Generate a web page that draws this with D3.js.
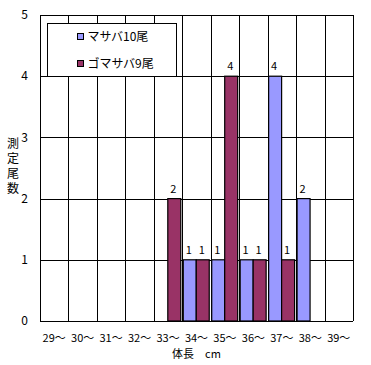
<!DOCTYPE html>
<html>
<head>
<meta charset="utf-8">
<script src="https://cdn.jsdelivr.net/npm/d3@7"></script>
<style>
  body { margin: 0; background: #fff; }
  text { font-family: "Noto Sans CJK JP", "DejaVu Sans", sans-serif; fill: #000; }
</style>
</head>
<body>
<svg class="chart"></svg>
<script>
const categories = ['29～', '30～', '31～', '32～', '33～', '34～', '35～', '36～', '37～', '38～', '39～'];
const seriesNames = ['マサバ10尾', 'ゴマサバ9尾'];
const masaba = [0, 0, 0, 0, 0, 1, 1, 1, 4, 2, 0];
const gomasaba = [0, 0, 0, 0, 2, 1, 4, 1, 1, 0, 0];
const yTicks = [0, 1, 2, 3, 4, 5];
const seriesColors = ['#9999ff', '#993366'];

const W = 371, H = 365;
const margin = {top: 15, right: 18, bottom: 44, left: 40};
const width = W - margin.left - margin.right;
const height = H - margin.top - margin.bottom;

const svg = d3.select('.chart')
    .attr('width', W)
    .attr('height', H);

const chart = svg.append('g')
    .attr('transform', `translate(${ margin.left },${ margin.top })`);

const x = d3.scaleBand()
    .domain(categories)
    .range([0, width])
    .padding(0);

const x1 = d3.scaleBand()
    .domain(seriesNames)
    .range([1, x.bandwidth() - 1.5])
    .padding(0);

const y = d3.scaleLinear()
    .domain([0, 5])
    .range([height, 0]);

// horizontal grid lines
chart.append('g')
  .selectAll('line')
    .data(yTicks)
  .enter().append('line')
    .attr('x1', 0)
    .attr('x2', width)
    .attr('y1', (d) => Math.round(y(d)) + 0.5)
    .attr('y2', (d) => Math.round(y(d)) + 0.5)
    .attr('stroke', '#000');

// vertical category lines
chart.append('g')
  .selectAll('line')
    .data(categories.concat(['end']))
  .enter().append('line')
    .attr('x1', (d, i) => Math.round(i * x.bandwidth()) + 0.5)
    .attr('x2', (d, i) => Math.round(i * x.bandwidth()) + 0.5)
    .attr('y1', 0)
    .attr('y2', height)
    .attr('stroke', '#000');

// y tick labels
chart.append('g')
  .selectAll('text')
    .data(yTicks)
  .enter().append('text')
    .attr('x', -12)
    .attr('y', (d) => y(d))
    .attr('dy', '0.35em')
    .attr('text-anchor', 'end')
    .style('font-size', '12px')
    .text((d) => d);

// x labels
chart.append('g')
  .selectAll('text')
    .data(categories)
  .enter().append('text')
    .attr('x', (d) => x(d) + x.bandwidth() / 2)
    .attr('y', height + 21)
    .attr('text-anchor', 'middle')
    .style('font-size', '11px')
    .text((d) => d);

// bars
const rows = categories.map((c, i) => ({cat: c, values: [masaba[i], gomasaba[i]]}));

const group = chart.selectAll('.grp')
    .data(rows)
  .enter().append('g')
    .attr('class', 'grp')
    .attr('transform', (d) => `translate(${ x(d.cat) },0)`);

group.selectAll('rect')
    .data((d) => d.values.map((v, j) => ({name: seriesNames[j], value: v, j: j})).filter((e) => e.value > 0))
  .enter().append('rect')
    .attr('x', (d) => x1(d.name))
    .attr('y', (d) => y(d.value))
    .attr('width', x1.bandwidth())
    .attr('height', (d) => y(0) - y(d.value))
    .attr('fill', (d) => seriesColors[d.j])
    .attr('stroke', '#000')
    .attr('stroke-width', 1.2);

// value labels
group.selectAll('.val')
    .data((d) => d.values.map((v, j) => ({name: seriesNames[j], value: v})).filter((e) => e.value > 0))
  .enter().append('text')
    .attr('class', 'val')
    .attr('x', (d) => x1(d.name) + x1.bandwidth() / 2 - 1)
    .attr('y', (d) => y(d.value) - 6)
    .attr('text-anchor', 'middle')
    .style('font-size', '11px')
    .text((d) => d.value);

// legend
const legend = chart.append('g')
    .attr('transform', 'translate(7.5,8.5)');

legend.append('rect')
    .attr('width', 129)
    .attr('height', 53)
    .attr('fill', '#fff')
    .attr('stroke', '#000');

seriesNames.forEach((name, i) => {
  const row = legend.append('g')
      .attr('transform', `translate(30,${ 10 + i * 27 })`);
  row.append('rect')
      .attr('width', 6)
      .attr('height', 6)
      .attr('fill', seriesColors[i])
      .attr('stroke', '#000');
  row.append('text')
      .attr('x', 10)
      .attr('y', 3)
      .attr('dy', '0.35em')
      .style('font-size', '12px')
      .text(name);
});

// axis titles
chart.append('text')
    .attr('x', width / 2)
    .attr('y', height + 37)
    .attr('text-anchor', 'middle')
    .style('font-size', '11px')
    .text('体長　cm');

// vertical y title, one text element
chart.append('text')
    .attr('x', -27)
    .attr('y', 122)
    .style('writing-mode', 'vertical-rl')
    .style('text-orientation', 'upright')
    .style('letter-spacing', '3px')
    .style('font-size', '12px')
    .text('測定尾数');
</script>
</body>
</html>
